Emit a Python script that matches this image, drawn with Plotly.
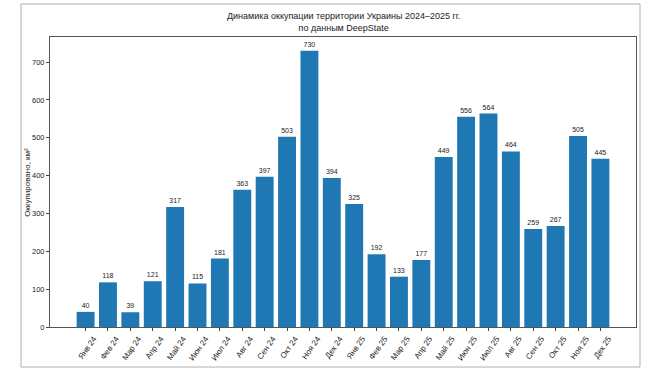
import plotly.graph_objects as go

months = ["Янв 24", "Фев 24", "Мар 24", "Апр 24", "Май 24", "Июн 24", "Июл 24", "Авг 24",
          "Сен 24", "Окт 24", "Ноя 24", "Дек 24", "Янв 25", "Фев 25", "Мар 25", "Апр 25",
          "Май 25", "Июн 25", "Июл 25", "Авг 25", "Сен 25", "Окт 25", "Ноя 25", "Дек 25"]
occupied = [40, 118, 39, 121, 317, 115, 181, 363, 397, 503, 730, 394,
            325, 192, 133, 177, 449, 556, 564, 464, 259, 267, 505, 445]
y_ticks = [0, 100, 200, 300, 400, 500, 600, 700]

FONT = "Liberation Sans, Arial, sans-serif"

idx = list(range(len(months)))
fig = go.Figure(go.Bar(
    x=idx, y=occupied, width=0.8,
    marker=dict(color="#1f77b4", line=dict(width=0)),
    text=[str(v) for v in occupied], textposition="outside",
    textfont=dict(size=7, color="#222"), cliponaxis=False,
))

fig.update_layout(
    width=654, height=383,
    margin=dict(l=50, r=18, t=37, b=56, autoexpand=False),
    paper_bgcolor="white", plot_bgcolor="white",
    font=dict(family=FONT, size=7.5, color="#222"),
    showlegend=False,
    xaxis=dict(range=[-1.59, 24.59], tickmode="array", tickvals=idx, ticktext=months,
               tickangle=-55, ticks="outside", ticklen=3, tickcolor="#444",
               ticklabelshift=8,
               showline=True, linecolor="#555", linewidth=1, mirror=True,
               showgrid=False, zeroline=False, tickfont=dict(size=8), automargin=False),
    yaxis=dict(range=[0, 766.5], tickmode="array", tickvals=y_ticks,
               ticks="outside", ticklen=3, tickcolor="#444",
               showline=True, linecolor="#555", linewidth=1, mirror=True,
               showgrid=False, zeroline=False, tickfont=dict(size=7.5), automargin=False),
    annotations=[
        dict(text="Динамика оккупации территории Украины 2024–2025 гг.<br>по данным DeepState",
             xref="paper", yref="paper", x=0.5, y=1.0, yshift=2,
             xanchor="center", yanchor="bottom", showarrow=False,
             font=dict(size=9, family=FONT, color="#222"), align="center"),
        dict(text="Оккупировано, км²", xref="paper", yref="paper",
             x=-0.0395, y=0.5, xanchor="center", yanchor="middle", textangle=-90,
             showarrow=False, font=dict(size=8, family=FONT, color="#222")),
    ],
    shapes=[dict(type="rect", xref="paper", yref="paper",
                 x0=-0.0495, x1=1.0068, y0=-0.138, y1=1.1138,
                 line=dict(color="#b0b0b0", width=1), fillcolor="rgba(0,0,0,0)", layer="below")],
)

fig.write_html("out.html", config={"displayModeBar": False},
               post_script="document.body.style.margin='0';document.body.style.overflow='hidden';")
